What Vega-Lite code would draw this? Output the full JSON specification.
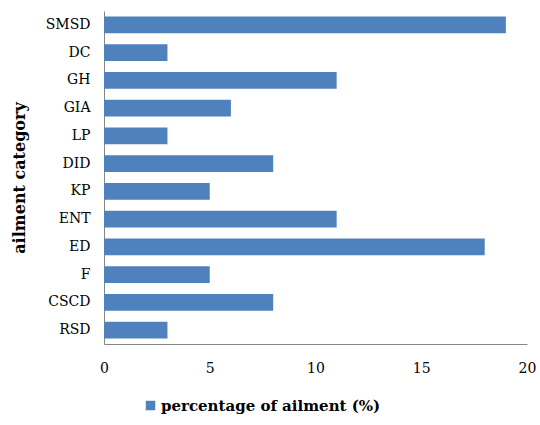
{
  "$schema": "https://vega.github.io/schema/vega-lite/v6.json",
  "width": 423,
  "height": 333,
  "autosize": {"type": "none"},
  "padding": {"left": 104, "top": 11, "right": 13, "bottom": 81},
  "background": "white",
  "config": {"view": {"stroke": null}},
  "data": {"values": [
    {"category": "SMSD", "value": 19, "series": "percentage of ailment (%)"},
    {"category": "DC", "value": 3, "series": "percentage of ailment (%)"},
    {"category": "GH", "value": 11, "series": "percentage of ailment (%)"},
    {"category": "GIA", "value": 6, "series": "percentage of ailment (%)"},
    {"category": "LP", "value": 3, "series": "percentage of ailment (%)"},
    {"category": "DID", "value": 8, "series": "percentage of ailment (%)"},
    {"category": "KP", "value": 5, "series": "percentage of ailment (%)"},
    {"category": "ENT", "value": 11, "series": "percentage of ailment (%)"},
    {"category": "ED", "value": 18, "series": "percentage of ailment (%)"},
    {"category": "F", "value": 5, "series": "percentage of ailment (%)"},
    {"category": "CSCD", "value": 8, "series": "percentage of ailment (%)"},
    {"category": "RSD", "value": 3, "series": "percentage of ailment (%)"}
  ]},
  "mark": {"type": "bar"},
  "encoding": {
    "y": {
      "field": "category", "type": "nominal", "sort": null,
      "scale": {"paddingInner": 0.4, "paddingOuter": 0.2},
      "axis": {
        "title": "ailment category", "titleFont": "DejaVu Serif", "titleFontSize": 16, "titleFontWeight": "bold", "titleColor": "black", "titlePadding": 18,
        "labelFont": "DejaVu Serif", "labelFontSize": 14, "labelColor": "black", "labelPadding": 14,
        "ticks": false, "domainColor": "#868686", "grid": false
      }
    },
    "x": {
      "field": "value", "type": "quantitative",
      "scale": {"domain": [0, 20]},
      "axis": {
        "title": null, "values": [0, 5, 10, 15, 20],
        "labelFont": "DejaVu Serif", "labelFontSize": 14, "labelColor": "black", "labelPadding": 17, "labelFlush": false,
        "ticks": false, "domainColor": "#868686", "grid": false
      }
    },
    "color": {
      "field": "series", "type": "nominal",
      "scale": {"range": ["#4F81BD"]},
      "legend": {
        "title": null, "orient": "none", "legendX": 39, "legendY": 387,
        "symbolType": "square", "symbolSize": 90, "symbolStrokeWidth": 0, "labelLimit": 400,
        "labelFont": "DejaVu Serif", "labelFontSize": 15, "labelFontWeight": "bold", "labelColor": "black", "labelOffset": 3
      }
    }
  }
}
